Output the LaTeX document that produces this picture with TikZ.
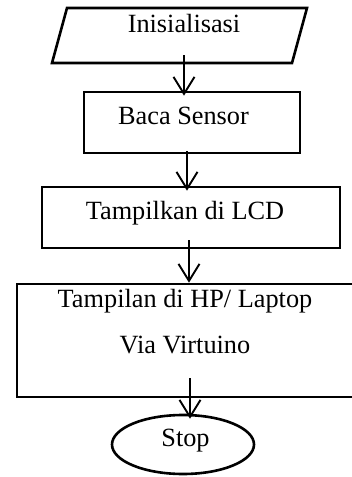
\documentclass[tikz,border=0pt]{standalone}
\usepackage{fontspec}
\setmainfont{Liberation Serif}
\usetikzlibrary{shapes.geometric,arrows.meta}
\tikzset{
  boxline/.style={draw=black, line width=2.6pt, inner sep=0pt},
  procbox/.style={boxline, rectangle, text height=32pt, text depth=29pt},
  iobox/.style={boxline, trapezium, trapezium left angle=74.74, trapezium right angle=105.26,
    trapezium stretches body, minimum width=255pt, minimum height=55pt, text height=24pt, text depth=31pt},
  endbox/.style={boxline, ellipse, minimum width=142pt, minimum height=59pt, text height=12pt, text depth=9pt},
  flowarrow/.style={draw=black, line width=1.9pt, -{Straight Barb[length=17pt,width=21pt]}}
}
\begin{document}
\begin{tikzpicture}[x=1pt, y=-1pt, font=\fontsize{26.3}{31.6}\selectfont]
\useasboundingbox (0,0) rectangle (352,477);
\clip (0,0) rectangle (352,477);
\node[iobox] (init) at (179.5,35.5) {\hspace*{9pt}Inisialisasi};
\node[procbox, minimum width=216pt] (baca) at (192,122.5) {Baca Sensor\hspace*{17pt}};
\node[procbox, minimum width=298pt] (lcd) at (191,217.5) {Tampilkan di LCD\hspace*{12pt}};
\node[boxline, rectangle, minimum width=345pt, text height=23pt, text depth=90pt] (hp) at (189.5,340.5)
  {\begin{tabular}[t]{@{}c@{\hspace{9pt}}}Tampilan di HP/ Laptop\\[14.4pt]Via Virtuino\end{tabular}};
\node[endbox] (stop) at (183,444.5) {\hspace*{5pt}Stop};
\coordinate (s1) at (184,55);
\coordinate (s2) at (187,151);
\coordinate (s3) at (189,240);
\coordinate (s4) at (190,378);
\draw[flowarrow] (s1) -- ([yshift=-5pt]s1 |- baca.north);
\draw[flowarrow] (s2) -- ([yshift=-5pt]s2 |- lcd.north);
\draw[flowarrow] (s3) -- (s3 |- hp.north);
\draw[flowarrow] (s4) -- ([yshift=-5pt]s4 |- stop.north);
\end{tikzpicture}
\end{document}
